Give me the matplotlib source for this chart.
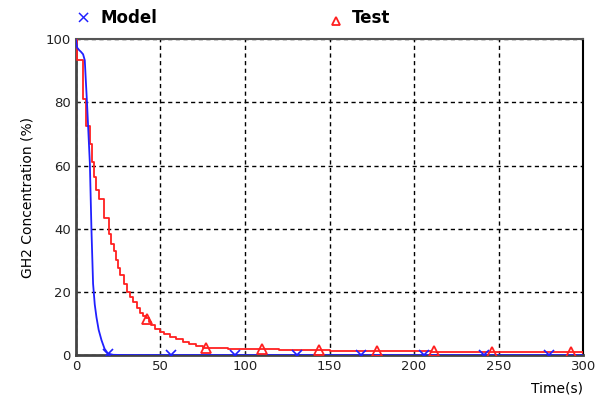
import matplotlib.pyplot as plt

# Model curve (smooth) and its marker positions
model_t = [0, 0.8, 2, 3, 4.3, 5.3, 5.9, 6.6, 7.3, 8.3, 9.25, 10.2, 11.2, 12.2, 13.5, 15.2, 17, 19, 22, 30, 60, 100, 150, 200, 250, 300]
model_y = [100, 97.3, 96.5, 96, 95.2, 93.3, 87, 80, 72, 60.7, 39.5, 22.6, 16, 12, 8, 4.7, 2, 0.5, 0.1, 0, 0, 0, 0, 0, 0, 0]
model_mark_t = [19, 56.5, 94, 130.6, 168.6, 206, 241.5, 280]
model_mark_y = [0.3, 0, 0, 0, 0, 0, 0, 0]

# Test data (stepwise) and its marker positions
test_t = [0, 0.8, 4.3, 5.9, 8.3, 9.6, 10.8, 12.2, 13.8, 16.7, 19.7, 21, 22.5, 24, 25.2, 26.4, 28.2, 30,
          32, 33.9, 36, 37.8, 39.5, 41.3, 43, 44.7, 47, 49.6, 52, 55.5, 59, 63.4, 67, 71, 75, 79,
          85, 90, 100, 120, 150, 180, 210, 250, 300]
test_y = [100, 93.3, 81, 72.6, 66.7, 61, 56.3, 52.4, 49.3, 43.5, 38.4, 35.3, 33, 30, 27.5, 25.3, 22.5, 20,
          18.4, 16.8, 15, 13.2, 12.4, 11.6, 10.5, 9.5, 8.4, 7.4, 6.6, 5.8, 5.0, 4.2, 3.4, 2.8, 2.4, 2.2,
          2.1, 2.0, 1.8, 1.7, 1.4, 1.2, 1.0, 0.9, 0.8]
test_mark_t = [42, 77, 110, 144, 178, 212, 246, 293]
test_mark_y = [11.5, 2.4, 1.8, 1.5, 1.3, 1.2, 1.0, 0.9]

fig = plt.figure(figsize=(5.97, 3.99), dpi=100)
ax = fig.add_axes([0.127, 0.110, 0.850, 0.792])

ax.plot(test_t, test_y, color='#ff2020', lw=1.3, drawstyle='steps-post', zorder=3)
ax.plot(test_mark_t, test_mark_y, ls='none', marker='^', mfc='none', mec='#ff2020', ms=7, mew=1.3, zorder=4)
ax.plot(model_t, model_y, color='#2020ff', lw=1.3, zorder=3)
ax.plot(model_mark_t, model_mark_y, ls='none', marker='x', color='#2020ff', ms=7, mew=1.2, zorder=4)

ax.set_xlim(0, 300)
ax.set_ylim(0, 100)
ax.set_xticks([0, 50, 100, 150, 200, 250, 300])
ax.set_yticks([0, 20, 40, 60, 80, 100])
ax.grid(True, color='black', ls=(0, (3, 2.5)), lw=1.0)
ax.tick_params(direction='in', length=3, labelsize=9.5, colors='#222222')
for s in ['left', 'bottom']:
    ax.spines[s].set_linewidth(2.0)
    ax.spines[s].set_color('#444444')
ax.spines['top'].set_linewidth(1.5)
ax.spines['top'].set_color('#555555')
ax.spines['right'].set_linewidth(1.5)
ax.spines['right'].set_color('black')

ax.set_ylabel('GH2 Concentration (%)', fontsize=10, labelpad=8)
ax.text(1.0, -0.085, 'Time(s)', transform=ax.transAxes, ha='right', va='top', fontsize=10)

# legend above the plot
fig.text(83 / 597, 1 - 19 / 399, '\u00d7', color='#2020ff', fontsize=13, ha='center', va='center')
fig.text(100 / 597, 1 - 18 / 399, 'Model', fontsize=12, fontweight='bold', va='center')
ax.plot([336 / 597], [1 - 21 / 399], transform=fig.transFigure, marker='^', mfc='none',
        mec='#ff2020', ms=6, mew=1.3, clip_on=False)
fig.text(352 / 597, 1 - 18 / 399, 'Test', fontsize=12, fontweight='bold', va='center')

fig.savefig('out.png', dpi=100)
